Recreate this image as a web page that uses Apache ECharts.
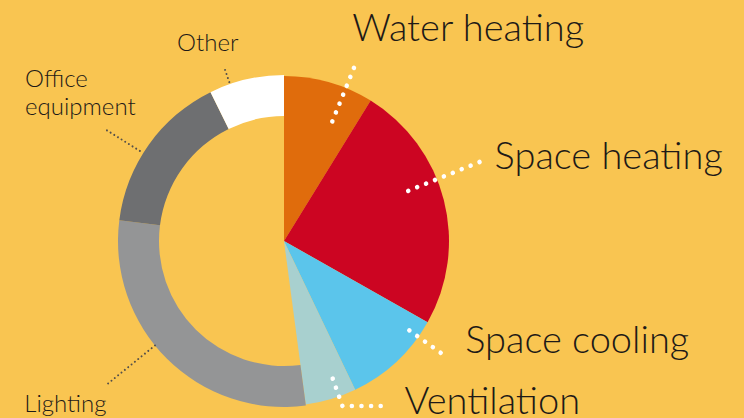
<!DOCTYPE html>
<html>
<head>
<meta charset="utf-8">
<script src="https://cdn.jsdelivr.net/npm/echarts@6/dist/echarts.min.js"></script>
<style>
html,body{margin:0;padding:0;background:#F9C551;}
#c{width:744px;height:418px;}
</style>
</head>
<body>
<div id="c"></div>
<script>
// ---- data (share of energy use, %) ----
const categories = ['Water heating', 'Space heating', 'Space cooling', 'Ventilation', 'Lighting', 'Office equipment', 'Other'];
const shares = [8.8, 24.4, 9.7, 5.0, 29.1, 15.7, 7.3];
const labelTexts = ['Water heating', 'Space heating', 'Space cooling', 'Ventilation', 'Lighting', 'Office\nequipment', 'Other'];
const ringGroup = [false, false, false, false, true, true, true];

// ---- styles ----
const colors = ['#E06C0C', '#CC0522', '#5BC5EB', '#A8D0CF', '#949596', '#6E6F71', '#FFFFFF'];
const CX = 284, CY = 241, R_OUT = 166, R_IN = 125;
const CLEAR = 'rgba(0,0,0,0)';
// leader lines in polar terms around the pie centre: angle (deg clockwise from 12 o'clock), start/end radius, horizontal tail
// label anchor offset relative to line end
const leader = [
  {a: 22,    r0: 129, r1: 190, tail: 0,  dx: -3,  dy: -39},
  {a: 68,    r0: 134, r1: 212, tail: 0,  dx: 14,  dy: -8},
  {a: 125.5, r0: 154, r1: 198, tail: 0,  dx: 20,  dy: -18},
  {a: 160.5, r0: 146, r1: 175, tail: 44, dx: 18,  dy: -7},
  {a: 231,   r0: 166, r1: 230, tail: 0,  dx: -81, dy: 17},
  {a: 302,   r0: 170, r1: 211, tail: 0,  dx: -80, dy: -38},
  {a: 341,   r0: 168, r1: 184, tail: 0,  dx: -47, dy: -26}
];

function pol(a, r) {
  const t = a * Math.PI / 180;
  return [CX + r * Math.sin(t), CY - r * Math.cos(t)];
}

function buildData(forRing) {
  return categories.map(function (name, i) {
    const mine = ringGroup[i] === forRing;
    return {name: name, value: shares[i], itemStyle: {color: mine ? colors[i] : CLEAR}};
  });
}

function buildLabelData() {
  return categories.map(function (name, i) {
    const big = !ringGroup[i];
    return {
      name: name,
      value: shares[i],
      itemStyle: {color: CLEAR},
      label: {
        show: true,
        formatter: labelTexts[i],
        fontFamily: 'Lato, "Open Sans", "Noto Sans", sans-serif',
        fontWeight: 300,
        fontSize: big ? 38 : 24,
        lineHeight: big ? 40 : 28,
        color: '#1E1A17'
      },
      labelLine: {
        show: true,
        length: 10,
        length2: 10,
        lineStyle: big
          ? {color: '#FFFFFF', width: 4.6, type: [0.01, 9.6], cap: 'round'}
          : {color: '#55504A', width: 2, type: [0.01, 4.3], cap: 'round'}
      }
    };
  });
}

function layoutFn(params) {
  const L = leader[params.dataIndex];
  const p0 = pol(L.a, L.r0);
  const p1 = pol(L.a, L.r1);
  const p2 = [p1[0] + L.tail, p1[1]];
  return {
    x: p2[0] + L.dx,
    y: p2[1] + L.dy,
    align: 'left',
    verticalAlign: 'middle',
    labelLinePoints: [p0, p1, p2]
  };
}

const common = {
  type: 'pie',
  silent: true,
  center: [CX, CY],
  startAngle: 90,
  clockwise: true,
  avoidLabelOverlap: false,
  itemStyle: {borderWidth: 0}
};

const chart = echarts.init(document.getElementById('c'), null, {renderer: 'svg'});
chart.setOption({
  backgroundColor: '#F9C551',
  animation: false,
  series: [
    Object.assign({}, common, {
      z: 1,
      radius: [0, R_OUT - 1],
      label: {show: false},
      labelLine: {show: false},
      data: buildData(false)
    }),
    Object.assign({}, common, {
      z: 2,
      radius: [R_IN, R_OUT],
      label: {show: false},
      labelLine: {show: false},
      data: buildData(true)
    }),
    Object.assign({}, common, {
      z: 10,
      radius: [0, R_OUT],
      label: {position: 'outside'},
      labelLayout: layoutFn,
      data: buildLabelData()
    })
  ]
});
</script>
</body>
</html>
